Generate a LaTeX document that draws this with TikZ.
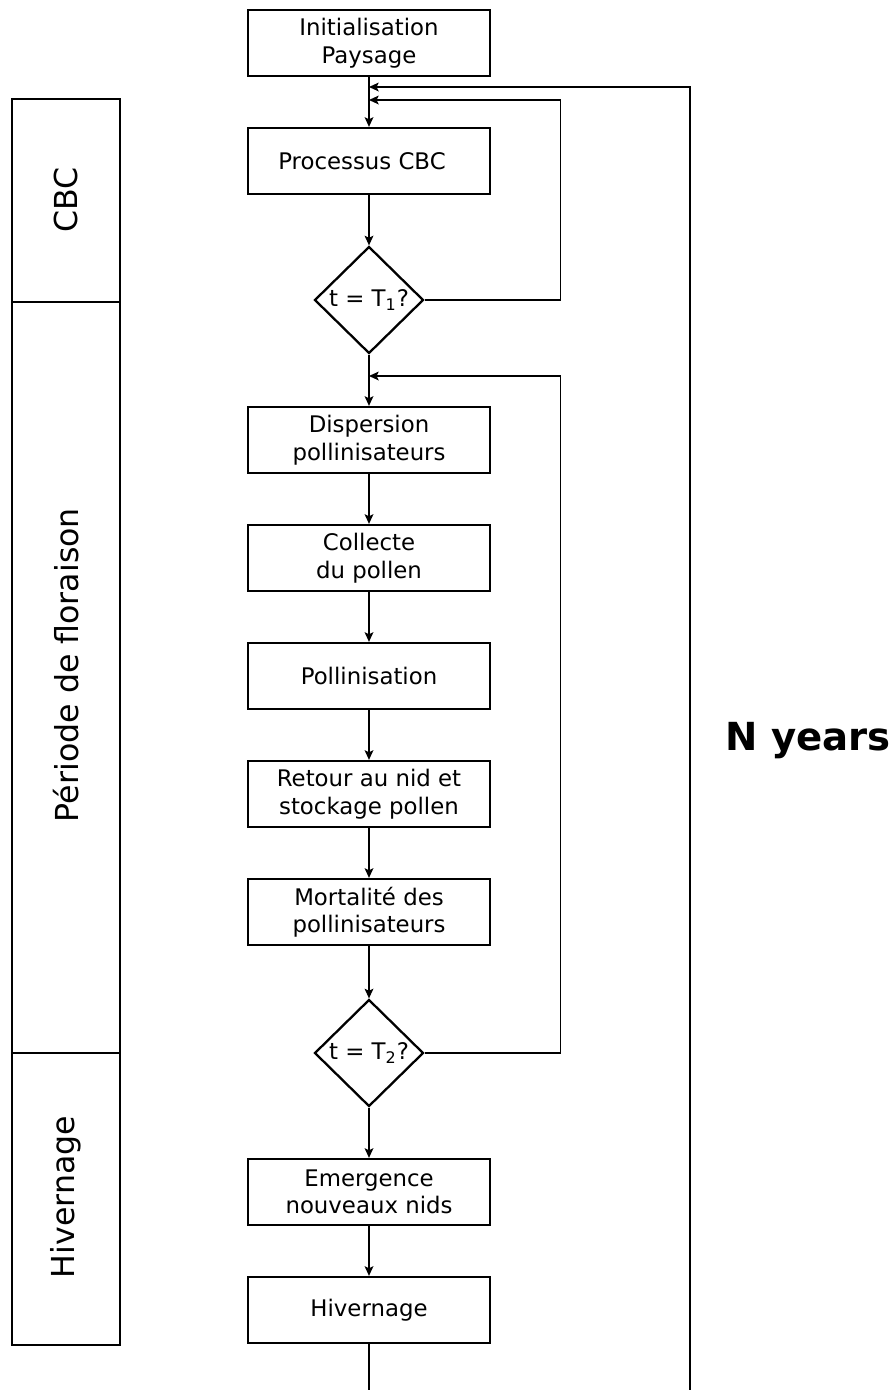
\documentclass[tikz,border=0pt]{standalone}
\usepackage{fontspec}
\setmainfont{DejaVu Sans}
\usetikzlibrary{arrows.meta}
\usetikzlibrary{shapes.geometric}

\tikzset{
  stepbox/.style={draw, line width=1.3pt, minimum width=4.84cm, minimum height=1.32cm,
    align=center, inner sep=0pt, font=\fontsize{13}{15.6}\selectfont},
  testbox/.style={draw, diamond, line width=1.3pt, minimum width=2.18cm, minimum height=2.14cm,
    inner sep=0pt, font=\fontsize{13}{15.6}\selectfont},
  phasebox/.style={draw, line width=1.6pt, rotate=90, minimum height=2.16cm, inner sep=0pt},
  phaselabel/.style={rotate=90, font=\fontsize{18}{21}\selectfont},
  flow/.style={line width=0.75pt, -{Stealth[length=5.5pt,width=5pt,inset=1.2pt]}},
}

\begin{document}
\begin{tikzpicture}[x=0.02cm, y=-0.02cm]
\useasboundingbox (0,0) rectangle (893,1390);

% steps of the model
\foreach \n/\y/\t in {init/43/{Initialisation\\Paysage}, cbc/161/{\hspace*{-8pt}Processus CBC},
  disp/440/{Dispersion\\pollinisateurs}, coll/558/{Collecte\\du pollen}, poll/676/{Pollinisation},
  ret/794/{Retour au nid et\\stockage pollen}, mort/912/{Mortalité des\\pollinisateurs},
  emer/1192/{Emergence\\nouveaux nids}, hiv/1310/{Hivernage}} {
 \node[stepbox] (\n) at (369,\y) {\t};
}
\node[testbox] (test1) at (369,300) {\makebox[0pt]{t = T\textsubscript{1}?}};
\node[testbox] (test2) at (369,1053) {\makebox[0pt]{t = T\textsubscript{2}?}};

% phases
\node[phasebox, minimum width=4.06cm] (phcbc) at (66,200.5) {};
\node[phasebox, minimum width=15.02cm] (phflor) at (66,677.5) {};
\node[phasebox, minimum width=5.84cm] (phhiv) at (66,1199) {};
\node[phaselabel] (lcbc) at (66,200) {CBC};
\node[phaselabel] (lflor) at (66,665) {Période de floraison};
\node[phaselabel] (lhiv) at (66,1197) {Hivernage};

\node[font=\fontsize{22}{26}\selectfont\bfseries] (years) at (808,741) {N years};

% connectors
\foreach \a/\b in {init/cbc, cbc/test1, test1/disp, disp/coll, coll/poll, poll/ret,
  ret/mort, mort/test2, test2/emer, emer/hiv} {
 \draw[flow] (\a) -- (\b);
}
\coordinate (in0) at (369,87);
\coordinate (in1) at (369,100);
\coordinate (in2) at (369,376);
\coordinate (out) at (369,1390);
\coordinate (back) at (690,1390);
\draw[flow] (test1.east) -- ++(136,0) |- (in1);
\draw[flow] (test2.east) -- ++(136,0) |- (in2);
\draw[line width=0.75pt] (hiv) -- (out);
\draw[flow] (back) |- (in0);
\end{tikzpicture}
\end{document}
